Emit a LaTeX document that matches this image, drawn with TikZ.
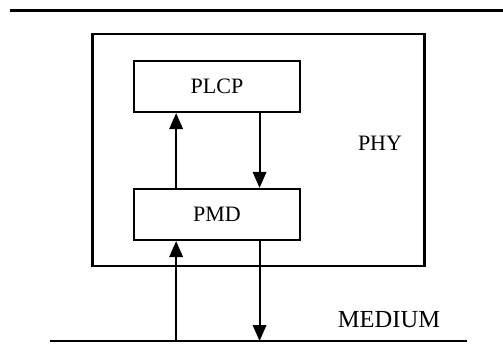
\documentclass[tikz,border=0pt]{standalone}
\usepackage{fontspec}
\setmainfont{Liberation Serif}
\usetikzlibrary{arrows.meta, calc}

\tikzset{
  layerbox/.style={draw, line width=2.2pt, minimum width=166pt, minimum height=51pt, inner sep=0pt},
  sig/.style={line width=2pt, -{Triangle[length=16pt, width=13.5pt]}}
}

\begin{document}
\begin{tikzpicture}[x=1pt, y=-1pt, every node/.style={font=\fontsize{22}{26}\selectfont}]

    % --- 1. 描画範囲 ---
    \useasboundingbox (0, 0) rectangle (503, 343);

    % --- 2. 上端の罫線 ---
    \coordinate (TopL) at (10, 10.5);
    \coordinate (TopR) at (503, 10.5);
    \draw[line width=3.5pt] (TopL) -- (TopR);

    % --- 3. PHY 層の外枠 ---
    \node[draw, line width=2.4pt, minimum width=332pt, minimum height=232pt, inner sep=0pt]
      (phy) at (258.5, 150) {};
    \node (phylabel) at (380, 143.5) {PHY};

    % --- 4. PLCP / PMD ---
    \node[layerbox] (plcp) at (217, 86.5) {PLCP};
    \node[layerbox] (pmd) at (217, 214.5) {PMD};

    % --- 5. 媒体 (MEDIUM) ---
    \coordinate (MedL) at (50, 341);
    \coordinate (MedR) at (467, 341);
    \draw[line width=2.2pt] (MedL) -- (MedR);
    \node[font=\fontsize{24.5}{28}\selectfont] (medium) at (389, 319.5) {MEDIUM};

    % --- 6. 信号の矢印 ---
    \coordinate (MedIn) at ($(pmd.south west)!0.257!(pmd.south east)$);
    \coordinate (MedOut) at ($(pmd.south west)!0.753!(pmd.south east)$);
    \draw[sig] (MedIn |- MedL) -- (MedIn);
    \draw[sig] (MedOut) -- (MedOut |- MedL);
    \draw[sig] (pmd.north -| MedIn) -- (plcp.south -| MedIn);
    \draw[sig] (plcp.south -| MedOut) -- (pmd.north -| MedOut);

  \end{tikzpicture}
\end{document}
